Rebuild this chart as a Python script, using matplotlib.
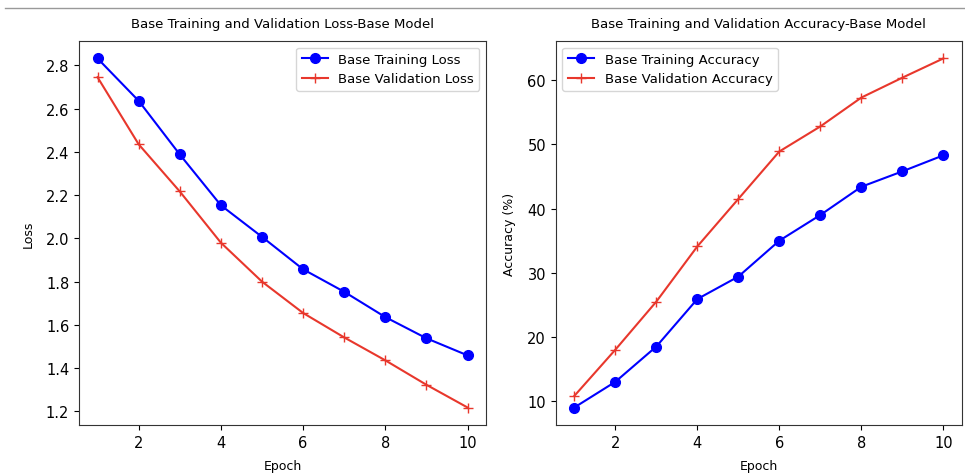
import matplotlib
matplotlib.use('Agg')
import matplotlib.pyplot as plt
from matplotlib.lines import Line2D

epochs = [1, 2, 3, 4, 5, 6, 7, 8, 9, 10]
train_loss = [2.832, 2.636, 2.388, 2.153, 2.007, 1.857, 1.753, 1.636, 1.538, 1.459]
val_loss = [2.745, 2.435, 2.217, 1.980, 1.800, 1.655, 1.542, 1.436, 1.323, 1.218]
train_acc = [9.0, 13.0, 18.5, 25.9, 29.4, 35.0, 39.0, 43.4, 45.8, 48.3]
val_acc = [10.8, 18.0, 25.5, 34.1, 41.5, 48.9, 52.8, 57.3, 60.4, 63.4]

blue = '#0000ff'
red = '#e8372c'

fig = plt.figure(figsize=(9.65, 4.77), dpi=100)
ax1 = fig.add_axes([0.0819, 0.107, 0.4218, 0.805])
ax2 = fig.add_axes([0.576, 0.107, 0.4207, 0.805])

# loss
ax1.plot(epochs, train_loss, color=blue, marker='o', markersize=7, label='Base Training Loss')
ax1.plot(epochs, val_loss, color=red, marker='+', markersize=7, label='Base Validation Loss')
ax1.set_title('Base Training and Validation Loss-Base Model', fontsize=9.5, pad=10)
ax1.set_xlabel('Epoch', fontsize=9, labelpad=7)
ax1.set_ylabel('Loss', fontsize=9, labelpad=8)
ax1.legend(fontsize=9.5, loc='upper right')

# accuracy
ax2.plot(epochs, train_acc, color=blue, marker='o', markersize=7, label='Base Training Accuracy')
ax2.plot(epochs, val_acc, color=red, marker='+', markersize=7, label='Base Validation Accuracy')
ax2.set_title('Base Training and Validation Accuracy-Base Model', fontsize=9.5, pad=10)
ax2.set_xlabel('Epoch', fontsize=9, labelpad=7)
ax2.set_ylabel('Accuracy (%)', fontsize=9, labelpad=8)
ax2.legend(fontsize=9.5, loc='upper left')

for ax in (ax1, ax2):
    ax.tick_params(labelsize=10.5)
    for s in ax.spines.values():
        s.set_color('#333333')

fig.add_artist(Line2D([0.005, 1.0], [0.981, 0.981], color='#999999', linewidth=1))

fig.savefig('out.png', dpi=100)
